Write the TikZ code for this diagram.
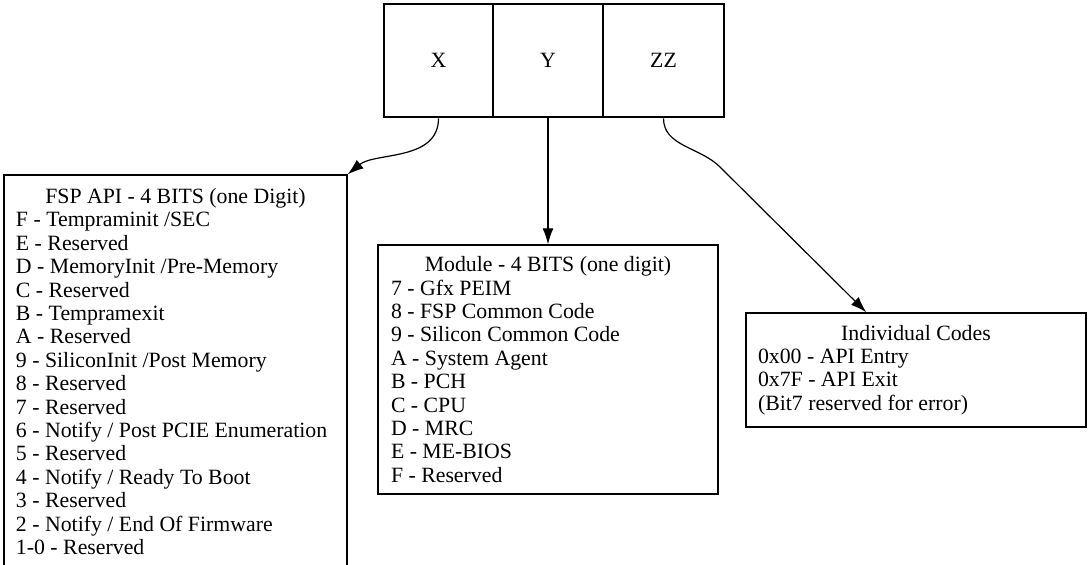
\documentclass[tikz,border=0pt]{standalone}
\usepackage{fontspec}
\setmainfont{Liberation Serif}
\usetikzlibrary{arrows.meta}

\begin{document}
\begin{tikzpicture}[x=1pt,y=-1pt,>={Latex[length=16pt,width=11pt]},
	every node/.style={font=\fontsize{21.8}{23.4}\selectfont},
	cell/.style={draw,line width=2.6pt,minimum height=113pt,inner sep=0pt},
	codebox/.style={draw,line width=1.4pt,inner xsep=13pt,inner ysep=0pt,align=flush left}]
	%\draw [help lines] (0,0) grid[step=50] (1088,565);
	\clip (0,0) rectangle (1088,565);

	\node [cell,minimum width=109pt] (x) at (438.5,60.5) {X};
	\node [cell,minimum width=110pt] (y) at (548,60.5) {Y};
	\node [cell,minimum width=121pt] (zz) at (663.5,60.5) {ZZ};

	\node [codebox,inner xsep=12pt,text width=319pt,minimum height=393pt] (api) at (175.5,371.5)
	{\makebox[\linewidth]{FSP API - 4 BITS (one Digit)}\\
	F - Tempraminit /SEC\\
	E - Reserved\\
	D - MemoryInit /Pre-Memory\\
	C - Reserved\\
	B - Tempramexit\\
	A - Reserved\\
	9 - SiliconInit /Post Memory\\
	8 - Reserved\\
	7 - Reserved\\
	6 - Notify / Post PCIE Enumeration\\
	5 - Reserved\\
	4 - Notify / Ready To Boot\\
	3 - Reserved\\
	2 - Notify / End Of Firmware\\
	1-0 - Reserved};

	\node [codebox,text width=314pt,minimum height=249pt] (module) at (548,369.5)
	{\makebox[\linewidth]{Module - 4 BITS (one digit)}\\
	7 - Gfx PEIM\\
	8 - FSP Common Code\\
	9 - Silicon Common Code\\
	A - System Agent\\
	B - PCH\\
	C - CPU\\
	D - MRC\\
	E - ME-BIOS\\
	F - Reserved};

	\node [codebox,inner xsep=12pt,text width=316pt,minimum height=114pt] (codes) at (916,370)
	{\makebox[\linewidth]{Individual Codes}\\
	0x00 - API Entry\\
	0x7F - API Exit\\
	(Bit7 reserved for error)};

	\draw [->,line width=1.2pt] (x.south) .. controls +(0,43) and (375,152) .. (api.north east);
	\draw [->,line width=1.2pt] (y.south) -- (module.north);
	\draw [->,line width=1.2pt] (zz.south) .. controls +(0,28) and (700,147) .. (720,167)
		-- ([xshift=121pt]codes.north west);
\end{tikzpicture}
\end{document}
